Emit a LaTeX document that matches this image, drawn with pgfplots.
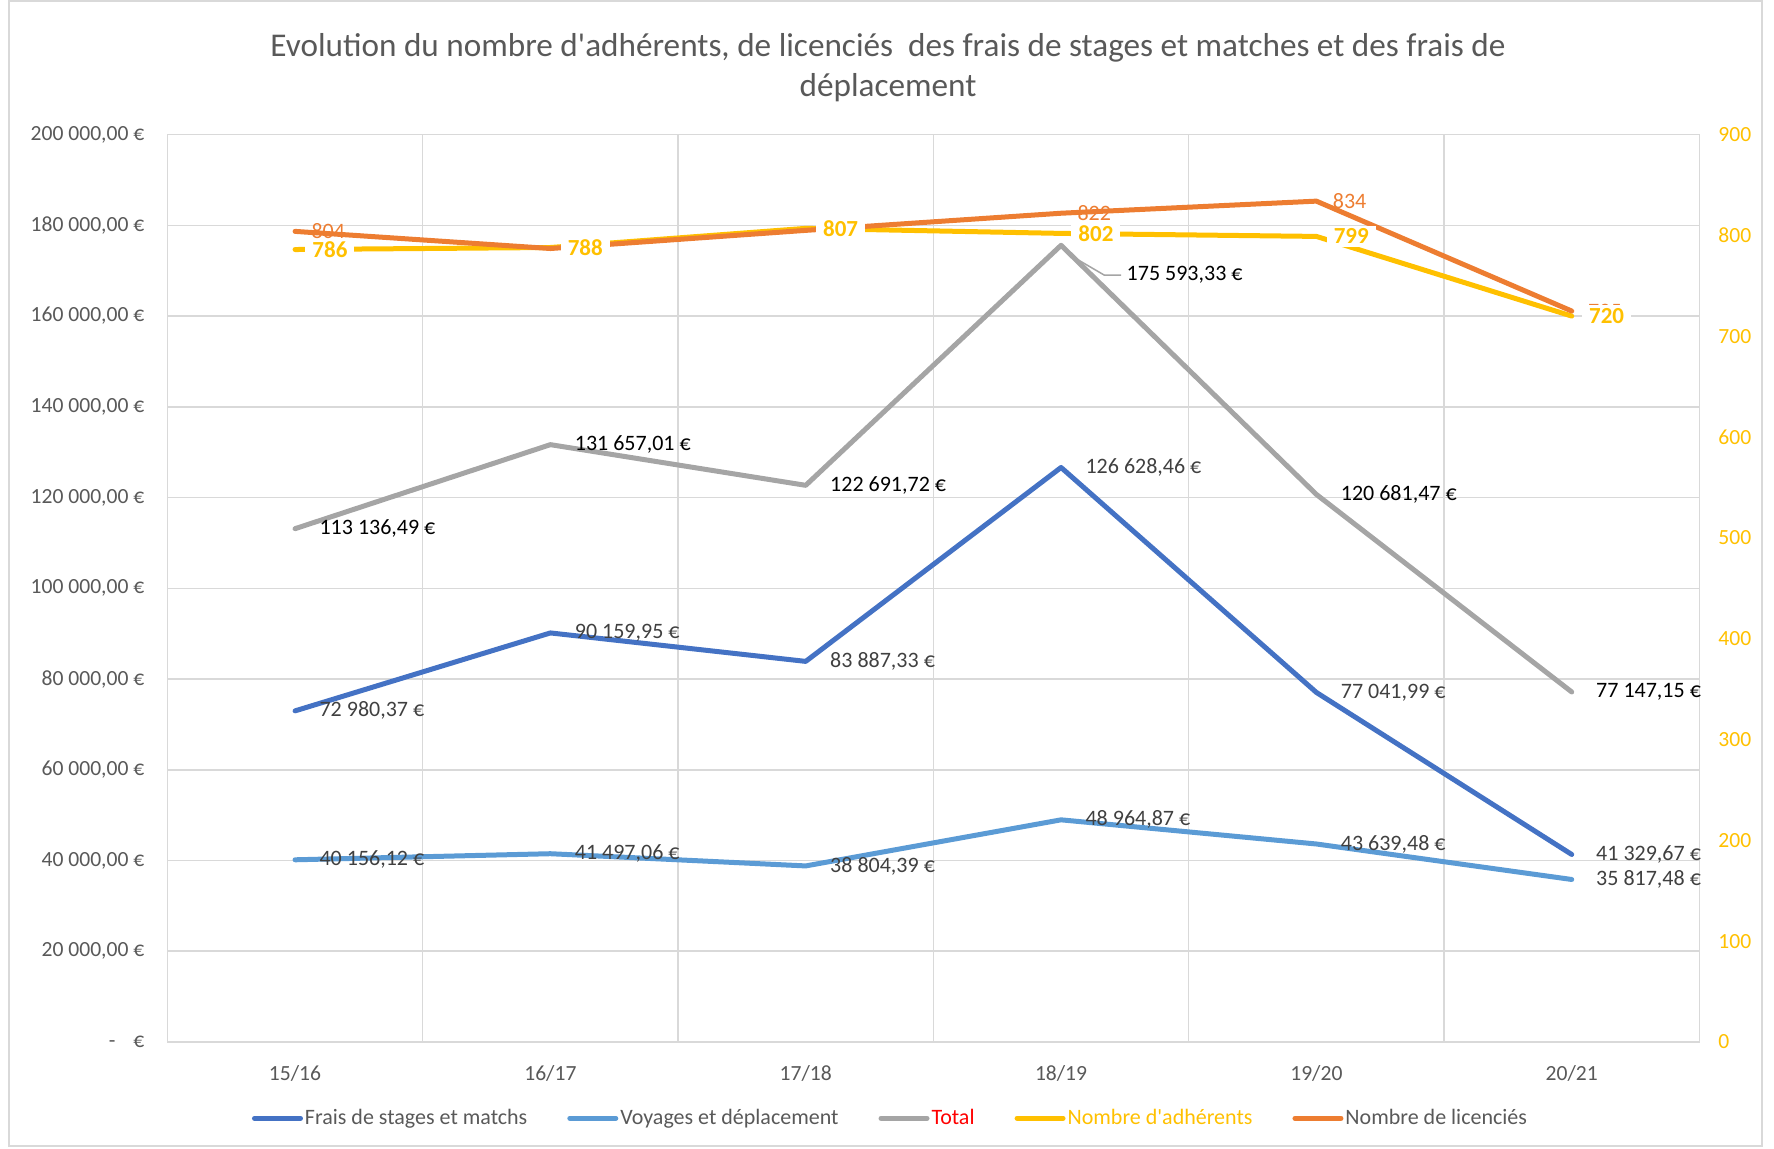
\documentclass[border=0pt]{standalone}
\usepackage{pgfplots}
\pgfplotsset{compat=1.18}
\usepackage{fontspec}
\setmainfont{Carlito}[Ligatures=TeXOff]
\definecolor{cfrais}{HTML}{4472C4}
\definecolor{cvoy}{HTML}{5B9BD5}
\definecolor{ctot}{HTML}{A5A5A5}
\definecolor{cadh}{HTML}{FFC000}
\definecolor{clic}{HTML}{ED7D31}
\definecolor{cgrid}{HTML}{D9D9D9}
\definecolor{ctxt}{HTML}{595959}
\definecolor{clab}{HTML}{404040}
\begin{document}
\begin{tikzpicture}[x=1pt,y=1pt]
\path[use as bounding box] (0,0) rectangle (887,574.5);
\draw[draw=cgrid, line width=0.75pt] (4.5,1.5) rectangle (881,574);
\node[align=center, text=ctxt, font=\fontsize{16.6}{20}\selectfont] at (444,540.5) {Evolution du nombre d'adhérents, de licenciés~ des frais de stages et matches et des frais de\\déplacement};

\begin{axis}[
  at={(83.7pt,53.5pt)}, anchor=south west,
  width=766pt, height=453.7pt, scale only axis,
  xmin=-0.5, xmax=5.5, ymin=0, ymax=200000,
  xtick={0,1,2,3,4,5},
  xticklabels={15/16,16/17,17/18,18/19,19/20,20/21},
  extra x ticks={0.5,1.5,2.5,3.5,4.5},
  extra x tick labels={},
  extra x tick style={grid=major},
  ytick={0,20000,40000,60000,80000,100000,120000,140000,160000,180000,200000},
  yticklabels={{-\hspace{9pt}€},{20~000,00~€},{40~000,00~€},{60~000,00~€},{80~000,00~€},{100~000,00~€},{120~000,00~€},{140~000,00~€},{160~000,00~€},{180~000,00~€},{200~000,00~€}},
  scaled y ticks=false,
  ymajorgrids,
  grid style={cgrid, line width=0.75pt},
  major tick length=0pt,
  tick style={draw=none},
  axis line style={cgrid, line width=0.75pt},
  tick label style={font=\fontsize{10.8}{12}\selectfont, text=ctxt},
  yticklabel style={xshift=-8pt},
  xticklabel style={yshift=-8pt},
  clip=false,
  every node near coord/.append style={anchor=west, font=\fontsize{11}{12}\selectfont, xshift=9pt, inner sep=2pt},
]
\addplot[cfrais, line width=2.5pt, line join=round, line cap=round,
  nodes near coords, point meta=explicit symbolic,
  every node near coord/.append style={text=clab}]
  coordinates {(0,72980.37) [72~980,37~€] (1,90159.95) [90~159,95~€] (2,83887.33) [83~887,33~€]
               (3,126628.46) [126~628,46~€] (4,77041.99) [77~041,99~€] (5,41329.67) [41~329,67~€]};
\addplot[cvoy, line width=2.5pt, line join=round, line cap=round,
  nodes near coords, point meta=explicit symbolic,
  every node near coord/.append style={text=clab}]
  coordinates {(0,40156.12) [40~156,12~€] (1,41497.06) [41~497,06~€] (2,38804.39) [38~804,39~€]
               (3,48964.87) [48~964,87~€] (4,43639.48) [43~639,48~€] (5,35817.48) [35~817,48~€]};
\addplot[ctot, line width=2.5pt, line join=round, line cap=round,
  nodes near coords, point meta=explicit symbolic,
  every node near coord/.append style={text=black}]
  coordinates {(0,113136.49) [113~136,49~€] (1,131657.01) [131~657,01~€] (2,122691.72) [122~691,72~€]
               (3,175593.33) [] (4,120681.47) [120~681,47~€] (5,77147.15) [77~147,15~€]};
\draw[ctot, line width=0.75pt] (axis cs:3.03,173600) -- (axis cs:3.17,169000) -- (axis cs:3.235,169000);
\node[anchor=west, font=\fontsize{11}{12}\selectfont, text=black, inner sep=2pt] at (axis cs:3.24,169000) {175~593,33~€};
\end{axis}

\begin{axis}[
  at={(83.7pt,53.5pt)}, anchor=south west,
  width=766pt, height=453.7pt, scale only axis,
  xmin=-0.5, xmax=5.5, ymin=0, ymax=900,
  axis x line=none, axis y line*=right,
  axis line style={draw=none},
  ytick={0,100,200,300,400,500,600,700,800,900},
  yticklabels={0,100,200,300,400,500,600,700,800,900},
  major tick length=0pt,
  tick style={draw=none},
  tick label style={font=\fontsize{10.8}{12}\selectfont, text=cadh},
  yticklabel style={xshift=6pt},
  clip=false,
  legend image code/.code={\draw[#1, line cap=round] (0pt,0pt) -- (23pt,0pt);},
  legend columns=5,
  legend style={at={(0.472,-0.084)}, anchor=center, draw=none, fill=none,
    font=\fontsize{11}{12}\selectfont, text=ctxt,
    /tikz/every even column/.append style={column sep=19pt},
    nodes={inner xsep=1pt}},
  legend cell align=left,
  every node near coord/.append style={anchor=west, xshift=5pt},
]
\addlegendimage{cfrais, line width=2.5pt}
\addlegendentry{\textcolor{ctxt}{Frais de stages et matchs}}
\addlegendimage{cvoy, line width=2.5pt}
\addlegendentry{\textcolor{ctxt}{Voyages et déplacement}}
\addlegendimage{ctot, line width=2.5pt}
\addlegendentry{\textcolor{red}{Total}}
\addlegendimage{cadh, line width=2.5pt}
\addlegendentry{\textcolor{cadh}{Nombre d'adhérents}}
\addlegendimage{clic, line width=2.5pt}
\addlegendentry{\textcolor{ctxt}{Nombre de licenciés}}

\addplot[cadh, line width=2.5pt, line join=round, line cap=round, forget plot]
  coordinates {(0,786) (1,788) (2,807) (3,802) (4,799) (5,720)};
\addplot[clic, line width=2.5pt, line join=round, line cap=round, forget plot,
  nodes near coords, point meta=explicit symbolic,
  every node near coord/.append style={text=clic, font=\fontsize{11}{12}\selectfont, inner sep=2pt}]
  coordinates {(0,804) [804] (1,787) [787] (2,805) [805] (3,822) [822] (4,834) [834] (5,725) [725]};
\addplot[draw=none, forget plot,
  nodes near coords, point meta=explicit symbolic,
  every node near coord/.append style={text=cadh, fill=white, font=\bfseries\fontsize{11.5}{12}\selectfont, inner xsep=3.5pt, inner ysep=1.5pt}]
  coordinates {(0,786) [786] (1,788) [788] (2,807) [807] (3,802) [802] (4,799) [799] (5,720) [720]};
\end{axis}
\end{tikzpicture}
\end{document}
